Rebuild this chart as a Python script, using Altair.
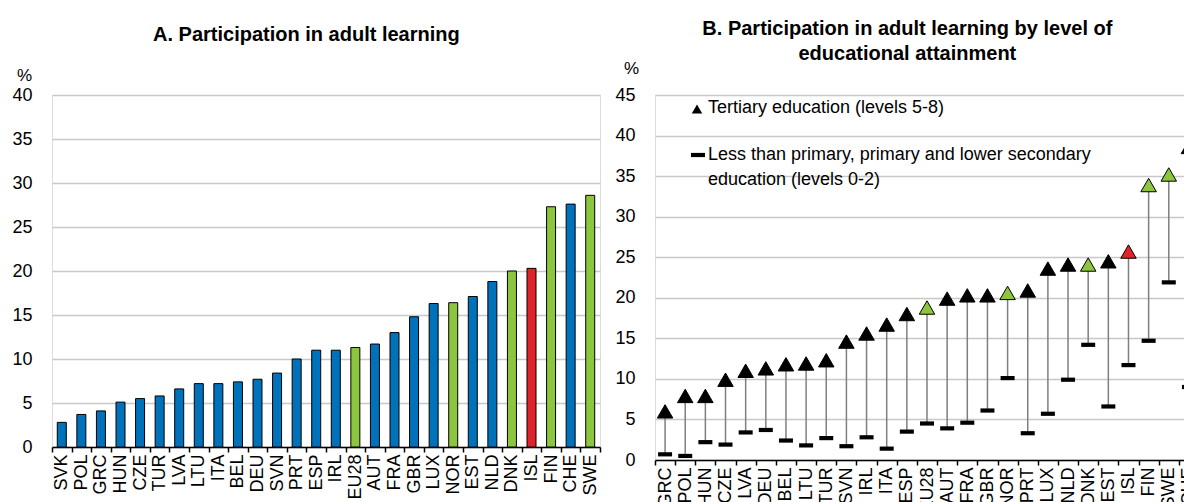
import altair as alt
import pandas as pd

FONT = "Liberation Sans"
BLUE = "#0072BC"
GREEN = "#8CC63F"
RED = "#E0232A"
GRID = "#C8C8C8"

# ---- Panel A data ----
a_countries = ["SVK", "POL", "GRC", "HUN", "CZE", "TUR", "LVA", "LTU", "ITA", "BEL",
               "DEU", "SVN", "PRT", "ESP", "IRL", "EU28", "AUT", "FRA", "GBR", "LUX",
               "NOR", "EST", "NLD", "DNK", "ISL", "FIN", "CHE", "SWE"]
a_values = [2.8, 3.7, 4.1, 5.1, 5.5, 5.8, 6.6, 7.2, 7.2, 7.4,
            7.7, 8.4, 10.0, 11.0, 11.0, 11.3, 11.7, 13.0, 14.8, 16.3,
            16.4, 17.1, 18.8, 20.0, 20.3, 27.3, 27.6, 28.6]

# ---- Panel B data ----
b_countries = ["GRC", "POL", "HUN", "CZE", "LVA", "DEU", "BEL", "LTU", "TUR", "SVN",
               "IRL", "ITA", "ESP", "EU28", "AUT", "FRA", "GBR", "NOR", "PRT", "LUX",
               "NLD", "DNK", "EST", "ISL", "FIN", "SWE", "CHE"]
b_tertiary = [6.0, 7.9, 7.9, 9.9, 11.0, 11.3, 11.8, 11.9, 12.3, 14.6,
              15.6, 16.7, 18.0, 18.8, 19.9, 20.3, 20.3, 20.6, 20.9, 23.6,
              24.1, 24.1, 24.5, 25.7, 33.9, 35.2, 38.6]
b_low = [0.7, 0.5, 2.2, 1.9, 3.4, 3.7, 2.4, 1.8, 2.7, 1.7,
         2.8, 1.4, 3.5, 4.5, 3.9, 4.6, 6.1, 10.1, 3.3, 5.7,
         9.9, 14.2, 6.6, 11.7, 14.7, 21.9, 9.0]

green_set = ["EU28", "NOR", "DNK", "FIN", "SWE"]
red_set = ["ISL"]

title_a = "A. Participation in adult learning"
title_b = ["B. Participation in adult learning by level of", "educational attainment"]
legend_labels = ["Tertiary education (levels 5-8)",
                 "Less than primary, primary and lower secondary",
                 "education (levels 0-2)"]
a_ticks = [0, 5, 10, 15, 20, 25, 30, 35, 40]
b_ticks = [0, 5, 10, 15, 20, 25, 30, 35, 40, 45]


def grp(c):
    if c in red_set:
        return "red"
    if c in green_set:
        return "green"
    return "base"


dfA = pd.DataFrame({"country": a_countries, "value": a_values,
                    "grp": [grp(c) for c in a_countries]})
dfB = pd.DataFrame({"country": b_countries, "tertiary": b_tertiary, "low": b_low,
                    "grp": [grp(c) for c in b_countries]})

x_axis = dict(labelAngle=-90, labelAlign="right", labelBaseline="middle",
              labelFontSize=18, labelFont=FONT, labelColor="black", labelPadding=2,
              tickBand="extent", tickSize=5, tickColor="black", tickWidth=1.5,
              domainColor="black", domainWidth=1.5, grid=False, title=None)


def y_axis(values, tx, ty, tsize):
    return alt.Axis(values=values, grid=True, gridColor=GRID, gridWidth=1.5,
                    domain=False, ticks=False, labelFontSize=18, labelFont=FONT,
                    labelColor="black", labelPadding=20, title="%", titleAngle=0,
                    titleFontSize=tsize, titleFont=FONT, titleFontWeight="normal",
                    titleAlign="center", titleBaseline="bottom", titleX=tx, titleY=ty,
                    titleColor="black")


bars = alt.Chart(dfA).mark_bar(size=9, stroke="black", strokeWidth=1).encode(
    x=alt.X("country:N", sort=a_countries,
            scale=alt.Scale(paddingInner=0, paddingOuter=0), axis=alt.Axis(**x_axis)),
    y=alt.Y("value:Q", scale=alt.Scale(domain=[0, 40], nice=False),
            axis=y_axis(a_ticks, -28, -11, 17)),
    color=alt.Color("grp:N", scale=alt.Scale(domain=["base", "green", "red"],
                                             range=[BLUE, GREEN, RED]), legend=None),
).properties(width=548, height=352,
             title=alt.TitleParams(title_a, fontSize=20, font=FONT, fontWeight="bold",
                                   anchor="middle", frame="bounds", offset=21,
                                   color="black"))

xb = alt.X("country:N", sort=b_countries,
           scale=alt.Scale(paddingInner=0, paddingOuter=0), axis=alt.Axis(**x_axis))
baseB = alt.Chart(dfB)
rules = baseB.mark_rule(color="#7F7F7F", strokeWidth=1.5).encode(
    x=xb,
    y=alt.Y("low:Q", scale=alt.Scale(domain=[0, 45], nice=False),
            axis=y_axis(b_ticks, -24, -18, 17)),
    y2="tertiary:Q")
dashes = baseB.mark_point(shape="M-1,-0.3H1V0.3H-1Z", filled=True, color="black",
                          size=196, opacity=1).encode(x=xb, y="low:Q")
tris = baseB.mark_point(shape="triangle-up", filled=True, size=240, stroke="black",
                        strokeWidth=1, opacity=1).encode(
    x=xb, y="tertiary:Q",
    fill=alt.Fill("grp:N", scale=alt.Scale(domain=["base", "green", "red"],
                                           range=["black", GREEN, RED]), legend=None))

leg_df = pd.DataFrame({"a": [0]})
leg_tri = alt.Chart(leg_df).mark_point(shape="triangle-up", filled=True, color="black",
                                       size=110, opacity=1).encode(
    x=alt.value(42), y=alt.value(14))
leg_dash = alt.Chart(leg_df).mark_point(shape="M-1,-0.3H1V0.3H-1Z", filled=True,
                                        color="black", size=196, opacity=1).encode(
    x=alt.value(43), y=alt.value(60))
leg_t1 = alt.Chart(leg_df).mark_text(align="left", baseline="middle", fontSize=18,
                                     font=FONT, color="black",
                                     text=legend_labels[0]).encode(
    x=alt.value(53), y=alt.value(13))
leg_t2 = alt.Chart(leg_df).mark_text(align="left", baseline="middle", fontSize=18,
                                     font=FONT, color="black",
                                     text=legend_labels[1]).encode(
    x=alt.value(53), y=alt.value(60))
leg_t3 = alt.Chart(leg_df).mark_text(align="left", baseline="middle", fontSize=18,
                                     font=FONT, color="black",
                                     text=legend_labels[2]).encode(
    x=alt.value(53), y=alt.value(85))

panelB = alt.layer(rules, dashes, tris, leg_tri, leg_dash, leg_t1, leg_t2, leg_t3).properties(
    width=544, height=365,
    title=alt.TitleParams(title_b, fontSize=20, font=FONT, fontWeight="bold",
                          anchor="middle", frame="bounds", offset=-5, lineHeight=25,
                          color="black"))

# The page is 1192x502: the drawing is clipped to it (as in the reference crop)
chart = alt.hconcat(bars, panelB, spacing=12).properties(
    autosize=alt.AutoSizeParams(type="none"),
    padding={"left": 44, "top": 87, "right": 1132, "bottom": 407}
).configure_view(stroke=None).configure(font=FONT)

chart.save("out.html", embed_options={"renderer": "svg", "actions": False})
